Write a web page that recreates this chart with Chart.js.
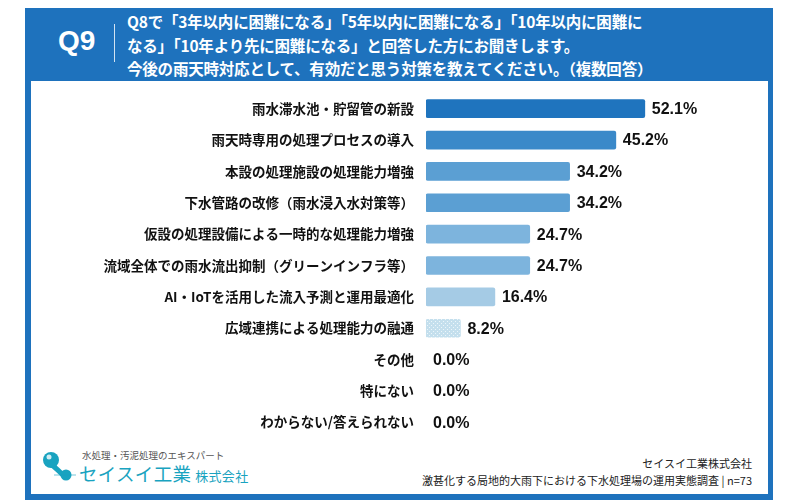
<!DOCTYPE html>
<html lang="ja">
<head>
<meta charset="utf-8">
<script src="https://cdn.jsdelivr.net/npm/chart.js@4"></script>
<style>
  body { margin: 0; width: 800px; height: 500px; background: #fff; position: relative; overflow: hidden; font-family: "Noto Sans CJK JP", sans-serif; }
  #frame { position: absolute; left: 25px; top: 8px; width: 748px; height: 492px; background: #1e72bd; }
  #inner { position: absolute; left: 31px; top: 81px; width: 737px; height: 413px; background: #fff; }
  #qno { position: absolute; left: 58px; top: 25px; font: bold 28px "Liberation Sans", Arial, sans-serif; color: #fff; }
  #qline { position: absolute; left: 114px; top: 24px; width: 1px; height: 38px; background: #fff; opacity: 0.8; }
  #title { position: absolute; left: 127px; top: 10px; color: #fff; font-weight: bold; font-size: 15.5px; line-height: 23.5px; letter-spacing: -0.2px; }
  #chart { position: absolute; left: 31px; top: 93px; }
  #logoSub { position: absolute; left: 82px; top: 448px; font-size: 9.5px; color: #555; }
  #logoMain { position: absolute; left: 79px; top: 460px; font-size: 18.5px; color: #19a3c0; letter-spacing: 0.3px; }
  #logoMain span { font-size: 13px; margin-left: 4px; }
  #logoMark { position: absolute; left: 40px; top: 450px; }
  #src { position: absolute; right: 48px; top: 455px; text-align: right; font-size: 11px; line-height: 17px; color: #222; }
</style>
</head>
<body>
<div id="frame"></div>
<div id="inner"></div>
<div id="qno">Q9</div>
<div id="qline"></div>
<div id="title">Q8で「3年以内に困難になる」「5年以内に困難になる」「10年以内に困難に<br>なる」「10年より先に困難になる」と回答した方にお聞きします。<br>今後の雨天時対応として、有効だと思う対策を教えてください。（複数回答）</div>
<canvas id="chart" width="737" height="345"></canvas>
<svg id="logoMark" width="40" height="34" viewBox="0 0 40 34">
  <path d="M11 14 Q18 20 24 26" stroke="#19a3c0" stroke-width="5" fill="none"/>
  <circle cx="11" cy="10" r="8" fill="#19a3c0"/>
  <circle cx="9" cy="7" r="2.5" fill="#fff" opacity="0.8"/>
  <circle cx="26" cy="25" r="5.5" fill="#19a3c0"/>
  <line x1="14" y1="25" x2="36" y2="25" stroke="#19a3c0" stroke-width="0.6"/>
</svg>
<div id="logoSub">水処理・汚泥処理のエキスパート</div>
<div id="logoMain">セイスイ工業<span>株式会社</span></div>
<div id="src">セイスイ工業株式会社<br>激甚化する局地的大雨下における下水処理場の運用実態調査 | n=73</div>

<script>
// data
const categories = [
  '雨水滞水池・貯留管の新設',
  '雨天時専用の処理プロセスの導入',
  '本設の処理施設の処理能力増強',
  '下水管路の改修（雨水浸入水対策等）',
  '仮設の処理設備による一時的な処理能力増強',
  '流域全体での雨水流出抑制（グリーンインフラ等）',
  'AI・IoTを活用した流入予測と運用最適化',
  '広域連携による処理能力の融通',
  'その他',
  '特にない',
  'わからない/答えられない'
];
const values = [52.1, 45.2, 34.2, 34.2, 24.7, 24.7, 16.4, 8.2, 0.0, 0.0, 0.0];

// light dotted fill for the small bar
function dotPattern() {
  const c = document.createElement('canvas');
  c.width = 4; c.height = 4;
  const g = c.getContext('2d');
  g.fillStyle = '#c4dfed';
  g.fillRect(0, 0, 4, 4);
  g.fillStyle = 'rgba(255,255,255,0.7)';
  g.fillRect(0, 0, 1, 1);
  g.fillRect(2, 2, 1, 1);
  return g.createPattern(c, 'repeat');
}

const barColors = ['#1f74be', '#3a89c9', '#5b9fd3', '#5b9fd3', '#7db4dd', '#7db4dd', '#a5cbe5', dotPattern(), 'rgba(0,0,0,0)', 'rgba(0,0,0,0)', 'rgba(0,0,0,0)'];

// value labels at bar ends
const valueLabels = {
  id: 'valueLabels',
  afterDatasetsDraw(chart) {
    const ctx = chart.ctx;
    const meta = chart.getDatasetMeta(0);
    ctx.save();
    ctx.font = 'bold 16px "Liberation Sans", Arial, sans-serif';
    ctx.fillStyle = '#111';
    ctx.textBaseline = 'middle';
    meta.data.forEach((bar, i) => {
      ctx.fillText(values[i].toFixed(1) + '%', bar.x + 7, bar.y + 1);
    });
    ctx.restore();
  }
};

new Chart(document.getElementById('chart'), {
  type: 'bar',
  data: {
    labels: categories,
    datasets: [{
      data: values,
      backgroundColor: barColors,
      barThickness: 18,
      borderRadius: 2,
      borderSkipped: false
    }]
  },
  options: {
    indexAxis: 'y',
    responsive: false,
    animation: false,
    layout: { padding: { right: 6 } },
    scales: {
      x: { display: false, min: 0, max: 80 },
      y: {
        grid: { display: false, drawTicks: false },
        border: { display: false },
        ticks: {
          color: '#111',
          padding: 12,
          font: { family: '"Noto Sans CJK JP", sans-serif', size: 13.5, weight: 'bold' }
        },
        afterFit(scale) {
          scale.width = 395;
          scale.paddingTop = 0;
          scale.paddingBottom = 0;
        }
      }
    },
    plugins: {
      legend: { display: false },
      tooltip: { enabled: false }
    }
  },
  plugins: [valueLabels]
});
</script>
</body>
</html>
